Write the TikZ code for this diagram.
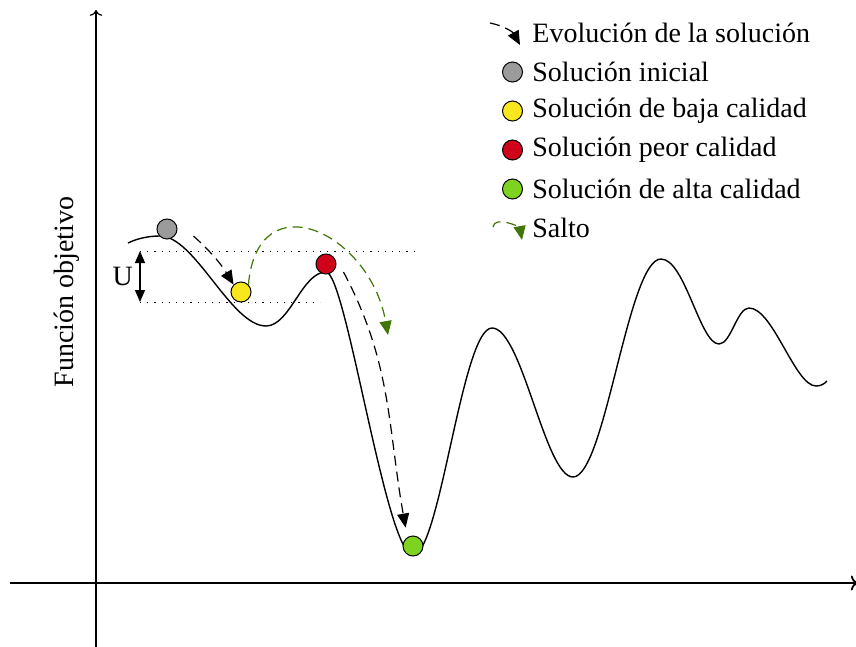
\documentclass[tikz,border=0pt]{standalone}
\usepackage{fontspec}
\setmainfont{Liberation Serif}
\usetikzlibrary{arrows.meta,positioning}
\definecolor{gris}{HTML}{9B9B9B}
\definecolor{amarillo}{HTML}{F8E71C}
\definecolor{rojo}{HTML}{D0021B}
\definecolor{verde}{HTML}{7ED321}
\definecolor{verdeosc}{HTML}{417505}

\begin{document}
\begin{tikzpicture}[x=0.5pt,y=0.5pt,node distance=19.5pt,font=\fontsize{14}{16}\selectfont]
  \tikzstyle{ball}=[circle,draw,line width=0.5pt,minimum size=10pt,inner sep=0pt]
  \tikzstyle{evol}=[line width=0.6pt,dash pattern=on 5pt off 3pt,-{Triangle[length=7pt,width=6pt]}]
  \tikzstyle{salto}=[evol,color=verdeosc]
  \tikzstyle{nivel}=[dash pattern=on 0.6pt off 3pt]
  \tikzstyle{leyenda}=[anchor=west,inner sep=0pt]

  \useasboundingbox (0,0) rectangle (856,-647);

  % ejes
  \draw[->,line width=0.6pt] (96,-647) -- (96,-10);
  \draw[->,line width=0.9pt] (10,-583) -- (858,-583);
  \node[rotate=90] (fobj) at (67,-292) {Función objetivo};

  % funcion objetivo
  \draw[line width=0.7pt] (128,-243) .. controls (138,-238) and (150,-236) .. (160,-236)
    .. controls (195,-236) and (231,-326) .. (266,-326)
    .. controls (290,-326) and (302,-272) .. (326,-272)
    .. controls (346,-272) and (386,-555) .. (413,-555)
    .. controls (440,-555) and (462,-328) .. (492,-328)
    .. controls (522,-328) and (545,-477) .. (573,-477)
    .. controls (605,-477) and (628,-259) .. (661,-259)
    .. controls (685,-259) and (700,-344) .. (719,-344)
    .. controls (731,-344) and (737,-308) .. (749,-308)
    .. controls (773,-308) and (795,-386) .. (816,-386)
    .. controls (821,-386) and (824,-384) .. (827,-381);

  % niveles
  \coordinate (u1) at (140,-251);
  \coordinate (u2) at (140,-302);
  \draw[nivel] (u1) -- (415,-251);
  \draw[nivel] (u2) -- (320,-302);
  \draw[line width=0.6pt,{Triangle[length=6pt,width=5pt]}-{Triangle[length=6pt,width=5pt]}] (u1) -- node[left] {U} (u2);

  % soluciones
  \node[ball,fill=gris] (ini) at (167,-229) {};
  \node[ball,fill=amarillo] (baja) at (241,-292) {};
  \node[ball,fill=rojo] (peor) at (326,-264) {};
  \node[ball,fill=verde] (alta) at (413,-546) {};
  \coordinate (sal) at (388,-335);

  \path[evol]
  ([shift={(16,-7)}]ini.east) edge [bend left=8] (baja.north west)
  ([shift={(7,-8)}]peor.east) edge [out=-62,in=100] ([shift={(0,11)}]alta.north west);
  \draw[salto] (baja.north east) to[out=85,in=100,looseness=1.8] (sal);

  % leyenda
  \node[leyenda] (levol) at (532,-33) {Evolución de la solución};
  \node[leyenda,below=of levol.west,anchor=west] (lini) {Solución inicial};
  \node[leyenda,below=of lini.west,anchor=west] (lbaja) {Solución de baja calidad};
  \node[leyenda,below=of lbaja.west,anchor=west] (lpeor) {Solución peor calidad};
  \node[leyenda,below=of lpeor.west,anchor=west] (lalta) {Solución de alta calidad};
  \node[leyenda,below=of lalta.west,anchor=west] (lsalto) {Salto};

  \node[ball,fill=gris,left=4.5pt of lini] (bini) {};
  \node[ball,fill=amarillo,left=4.5pt of lbaja] (bbaja) {};
  \node[ball,fill=rojo,left=4.5pt of lpeor] (bpeor) {};
  \node[ball,fill=verde,left=4.5pt of lalta] (balta) {};

  \draw[evol] ([shift={(-42,10)}]levol.west) to[bend left=25] ([shift={(-12,-12)}]levol.west);
  \draw[salto] ([shift={(-39,1)}]lsalto.west) to[out=80,in=100] ([shift={(-10,-12)}]lsalto.west);
\end{tikzpicture}
\end{document}
